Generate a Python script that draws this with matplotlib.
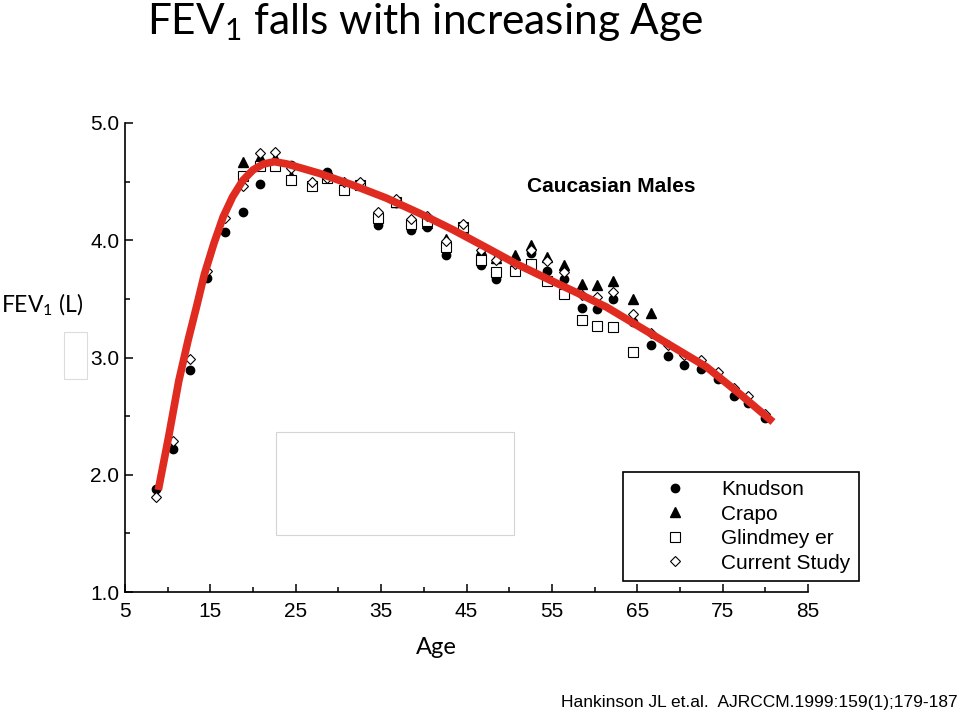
import numpy as np
import matplotlib
matplotlib.use('Agg')
import matplotlib.pyplot as plt
from matplotlib.patches import Rectangle

plt.rcParams['font.family'] = ['Liberation Sans', 'DejaVu Sans']
plt.rcParams['mathtext.fontset'] = 'custom'
plt.rcParams['mathtext.rm'] = 'Lato'

nan = np.nan

# age bins (years) shared by the four studies
ages = [8.6, 10.6, 12.6, 14.6, 16.7, 18.8, 20.8, 22.6, 24.4, 26.9, 28.7, 30.6, 32.5,
        34.6, 36.7, 38.5, 40.4, 42.6, 44.6, 46.7, 48.4, 50.7, 52.6, 54.4, 56.4, 58.5,
        60.3, 62.2, 64.5, 66.6, 68.6, 70.5, 72.5, 74.4, 76.3, 78.0, 80.0]

knudson = [1.88, 2.22, 2.89, 3.68, 4.07, 4.24, 4.48, 4.64, 4.64, 4.48, 4.58, 4.46, 4.47,
           4.13, 4.32, 4.09, 4.11, 3.87, 4.09, 3.79, 3.67, 3.74, 3.89, 3.74, 3.67, 3.42,
           3.41, 3.50, 3.30, 3.11, 3.01, 2.94, 2.90, 2.82, 2.67, 2.61, 2.48]

crapo = [nan, nan, nan, nan, nan, 4.67, 4.71, 4.70, 4.55, 4.48, 4.57, 4.47, 4.49,
         4.23, 4.33, 4.17, 4.15, 4.01, 4.10, 3.92, 3.85, 3.87, 3.96, 3.86, 3.79, 3.63,
         3.62, 3.65, 3.50, 3.38, nan, nan, nan, nan, nan, nan, nan]

glindmeyer = [nan, nan, nan, nan, nan, 4.55, 4.63, 4.63, 4.51, 4.46, 4.53, 4.43, 4.47,
              4.19, 4.33, 4.14, 4.16, 3.94, 4.11, 3.83, 3.73, 3.74, 3.80, 3.65, 3.54, 3.32,
              3.27, 3.26, 3.05, nan, nan, nan, nan, nan, nan, nan, nan]

current = [1.81, 2.29, 2.99, 3.74, 4.19, 4.46, 4.74, 4.75, 4.62, 4.50, 4.53, 4.50, 4.50,
           4.24, 4.35, 4.18, 4.21, 3.99, 4.14, 3.92, 3.83, 3.80, 3.92, 3.82, 3.73, 3.53,
           3.52, 3.56, 3.37, 3.21, 3.11, 3.02, 2.98, 2.88, 2.74, 2.67, 2.52]

# fitted curve
fit_age = [8.9, 10.1, 11.3, 12.4, 13.4, 14.3, 15.4, 16.5, 17.6, 18.8, 20.0, 21.2, 22.5,
           24.0, 27.8, 31.7, 35.6, 39.5, 43.4, 47.0, 50.8, 54.5, 58.0, 61.4, 65.3, 69.2,
           73.1, 77.0, 80.9]
fit_fev = [1.87, 2.32, 2.80, 3.15, 3.44, 3.71, 3.97, 4.20, 4.37, 4.51, 4.60, 4.65, 4.67,
           4.65, 4.57, 4.47, 4.36, 4.23, 4.09, 3.95, 3.80, 3.67, 3.55, 3.43, 3.26, 3.09,
           2.92, 2.69, 2.45]

fig = plt.figure(figsize=(9.6, 7.13), dpi=100)
ax = fig.add_axes([125 / 960, 1 - 592 / 713, 683 / 960, 469 / 713])

ax.plot(ages, knudson, 'o', color='black', markersize=6, label='Knudson')
ax.plot(ages, crapo, '^', color='black', markersize=6.5, label='Crapo')
ax.plot(ages, glindmeyer, 's', mfc='white', mec='black', mew=0.8, markersize=6.5,
        label='Glindmey er')
ax.plot(ages, current, 'D', mfc='white', mec='black', mew=0.8, markersize=5,
        label='Current Study')
ax.plot(fit_age, fit_fev, color='#e02b20', linewidth=5.5, solid_capstyle='butt',
        solid_joinstyle='round', zorder=5)

ax.set_xlim(5, 85)
ax.set_ylim(1.0, 5.0)
ax.set_xticks(np.arange(5, 86, 10))
ax.set_xticks(np.arange(10, 81, 10), minor=True)
ax.set_yticks(np.arange(1.0, 5.01, 1.0))
ax.set_yticks(np.arange(1.5, 5.0, 1.0), minor=True)
ax.set_yticklabels(['%.1f' % v for v in np.arange(1.0, 5.01, 1.0)])
ax.tick_params(which='both', direction='in', labelsize=15, width=1.1)
ax.tick_params(which='major', length=6)
ax.tick_params(which='minor', length=3.5)
ax.tick_params(axis='x', pad=7)
ax.tick_params(axis='y', pad=4)
for s in ['top', 'right']:
    ax.spines[s].set_visible(False)
for s in ['left', 'bottom']:
    ax.spines[s].set_linewidth(1.2)

ax.text(0.7116, 0.865, 'Caucasian Males', transform=ax.transAxes, ha='center',
        va='center', fontsize=15, fontweight='bold')

leg = ax.legend(loc='upper left', bbox_to_anchor=(623 / 960, 1 - 472 / 713),
                bbox_transform=fig.transFigure, borderaxespad=0, fontsize=15,
                frameon=True, fancybox=False, edgecolor='black', framealpha=1,
                handlelength=4.2, handletextpad=0.1, borderpad=0.4,
                labelspacing=0.26, numpoints=1)
leg.get_frame().set_linewidth(1.2)

# faint boxes left over on the slide
fig.patches.append(Rectangle((276 / 960, 1 - 535 / 713), 238 / 960, 103 / 713,
                             transform=fig.transFigure, fill=False,
                             edgecolor='#d4d4d4', linewidth=0.8))
fig.patches.append(Rectangle((64 / 960, 1 - 379 / 713), 23 / 960, 47 / 713,
                             transform=fig.transFigure, fill=False,
                             edgecolor='#dcdcdc', linewidth=0.8))

fig.text(425 / 960, 1 - 22 / 713, r'FEV$_{\mathrm{1}}$ falls with increasing Age',
         ha='center', va='center', fontsize=30.5, family='Lato')
fig.text(1 / 960, 1 - 305 / 713, r'FEV$_{\mathrm{1}}$ (L)', ha='left', va='center',
         fontsize=16.5, family='Lato')
fig.text(436 / 960, 1 - 647 / 713, 'Age', ha='center', va='center', fontsize=17,
         family='Lato')
fig.text(958 / 960, 1 - 702 / 713, 'Hankinson JL et.al.  AJRCCM.1999:159(1);179-187',
         ha='right', va='center', fontsize=12.5)

fig.savefig('out.png', dpi=100)
